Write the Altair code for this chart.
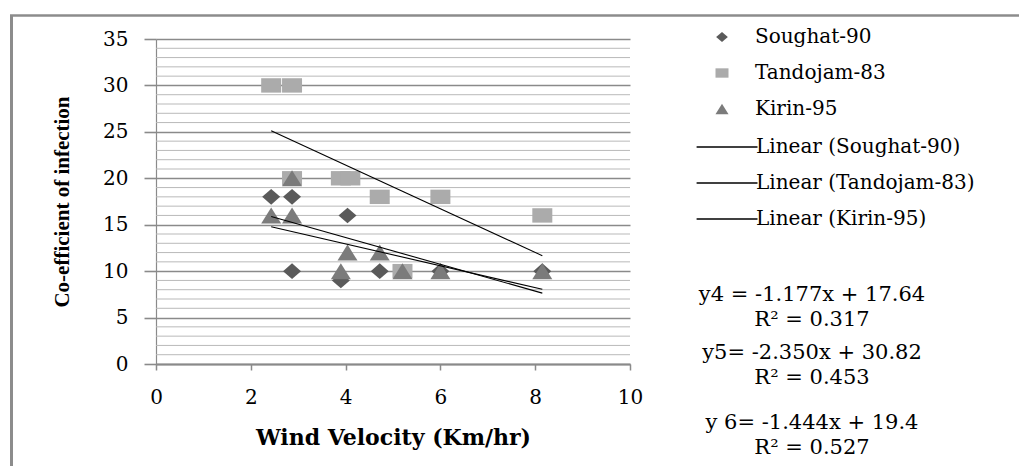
import altair as alt
import pandas as pd

# Varieties and their measured points (wind velocity, coefficient of infection)
SERIES = ["Soughat-90", "Tandojam-83", "Kirin-95"]

SOUGHAT_X = [2.43, 2.87, 2.87, 3.9, 4.04, 4.72, 6.0, 8.15]
SOUGHAT_Y = [18, 18, 10, 9, 16, 10, 10, 10]

TANDOJAM_X = [2.43, 2.87, 2.87, 3.9, 4.1, 4.72, 5.2, 6.0, 8.15]
TANDOJAM_Y = [30, 30, 20, 20, 20, 18, 10, 18, 16]

KIRIN_X = [2.43, 2.87, 2.87, 3.9, 4.04, 4.72, 5.2, 6.0, 8.15]
KIRIN_Y = [16, 16, 20, 10, 12, 12, 10, 10, 10]

# Linear trend coefficients as printed beside the chart
EQ_NAMES = ["y4 = ", "y5= ", "y 6= "]
SLOPES = [-1.177, -2.350, -1.444]
INTERCEPTS = [17.64, 30.82, 19.4]
R_SQUARED = [0.317, 0.453, 0.527]

X_TICKS = [0, 2, 4, 6, 8, 10]
Y_TICKS = [0, 5, 10, 15, 20, 25, 30, 35]
MINOR_Y = [v for v in range(1, 35) if v % 5]

FILLS = ["#5a5a5a", "#ababab", "#7b7b7b"]
SHAPES = [
    "M0,-0.78L0.9,0L0,0.78L-0.9,0Z",   # diamond
    "M-1,-0.72H1V0.72H-1Z",           # square
    "M0,-0.8L1,0.8L-1,0.8Z",          # triangle
]
# legend swatch for trend lines: a long stroke running up to the label
TREND_SWATCH = "M-7.6,0H1.77"

xs_all = [SOUGHAT_X, TANDOJAM_X, KIRIN_X]
ys_all = [SOUGHAT_Y, TANDOJAM_Y, KIRIN_Y]

points = pd.concat(
    [pd.DataFrame({"x": xs, "y": ys, "series": name})
     for name, xs, ys in zip(SERIES, xs_all, ys_all)],
    ignore_index=True,
)

TREND_NAMES = [f"Linear ({s})" for s in SERIES]
trend_rows = []
for tname, xs, a, b in zip(TREND_NAMES, xs_all, SLOPES, INTERCEPTS):
    for xv in (min(xs), max(xs)):
        trend_rows.append({"x": xv, "y": a * xv + b, "trend": tname})
trend = pd.DataFrame(trend_rows)

minor = pd.DataFrame({"y": MINOR_Y})
one = pd.DataFrame({"k": [0]})

W, H = 474, 325
SERIF = "DejaVu Serif"
GRID = "#8a8a8a"

x_scale = alt.Scale(domain=[0, 10], nice=False, zero=False)
y_scale = alt.Scale(domain=[0, 35], nice=False)

x_axis = alt.Axis(
    values=X_TICKS, grid=False, domainColor=GRID, domainWidth=2,
    tickColor=GRID, tickSize=6, tickWidth=1.5,
    labelFont=SERIF, labelFontSize=20, labelColor="black", labelPadding=17,
    labelFlush=False, labelOverlap=False,
    title="Wind Velocity (Km/hr)", titleFont=SERIF, titleFontSize=22,
    titleFontWeight="bold", titleColor="black",
    titleX=W / 2, titleY=73, titleAlign="center", titleBaseline="middle",
)
y_axis = alt.Axis(
    values=Y_TICKS, grid=True, gridColor=GRID, gridWidth=1.6,
    domainColor=GRID, domainWidth=1.2,
    tickColor=GRID, tickSize=12, tickWidth=1.6,
    labelFont=SERIF, labelFontSize=20, labelColor="black", labelPadding=16,
    labelOverlap=False,
    title="Co-efficient of infection", titleFont="Liberation Serif",
    titleFontSize=21, titleFontWeight="bold", titleColor="black",
    titleX=-94, titleY=H / 2, titleAngle=270, titleAlign="center",
    titleBaseline="middle",
)

X = alt.X("x:Q", scale=x_scale, axis=x_axis)
Y = alt.Y("y:Q", scale=y_scale, axis=y_axis)

minor_grid = alt.Chart(minor).mark_rule(color="#b9b9b9", strokeWidth=1).encode(y=Y)

legend_pts = alt.Legend(
    title=None, orient="none", legendX=556, legendY=-12,
    symbolSize=169, symbolStrokeWidth=0, symbolOpacity=1,
    labelFont=SERIF, labelFontSize=20, labelColor="black", labelLimit=400,
    labelOffset=23, rowPadding=16, padding=0,
)
pts = alt.Chart(points).mark_point(
    filled=True, opacity=1, size=400, strokeWidth=0
).encode(
    x=X, y=Y,
    color=alt.Color("series:N", scale=alt.Scale(domain=SERIES, range=FILLS),
                    legend=legend_pts),
    shape=alt.Shape("series:N", scale=alt.Scale(domain=SERIES, range=SHAPES),
                    legend=legend_pts),
    order=alt.Order("idx:Q"),
).transform_window(idx="row_number()")

legend_lines = alt.Legend(
    title=None, orient="none", legendX=580, legendY=98,
    symbolType=TREND_SWATCH, symbolSize=169, symbolStrokeWidth=1.3,
    symbolStrokeColor="black",
    labelFont=SERIF, labelFontSize=20, labelColor="black", labelLimit=400,
    labelOffset=0, rowPadding=16, padding=0,
)
lines = alt.Chart(trend).mark_line(strokeWidth=1.1).encode(
    x=X, y=Y,
    stroke=alt.Stroke("trend:N",
                      scale=alt.Scale(domain=TREND_NAMES, range=["black"] * 3),
                      legend=legend_lines),
)

# Outer frame
frame_left = alt.Chart(one).mark_rule(color="#8c8c8c", strokeWidth=3).encode(
    x=alt.value(-144.5), y=alt.value(-24), y2=alt.value(H + 110)
)
frame_top = alt.Chart(one).mark_rule(color="#8c8c8c", strokeWidth=2.5).encode(
    x=alt.value(-146), x2=alt.value(W + 400), y=alt.value(-23.5)
)

# Regression equations (y gives the first line of each block)
eq_layers = []
eq_tops = [256, 314, 384]
for name, a, b, r2, cy in zip(EQ_NAMES, SLOPES, INTERCEPTS, R_SQUARED, eq_tops):
    lines_txt = [f"{name}{a:.3f}x + {b:g}", f"R\u00b2 = {r2:.3f}"]
    eq_layers.append(
        alt.Chart(one).mark_text(
            font=SERIF, fontSize=21, align="center", baseline="middle",
            lineHeight=25, color="black",
        ).encode(x=alt.value(656), y=alt.value(cy), text=alt.value(lines_txt))
    )

chart = alt.layer(
    minor_grid, pts, lines, frame_left, frame_top, *eq_layers
).resolve_scale(
    color="independent", shape="independent", stroke="independent"
).properties(
    width=W, height=H,
    autosize=alt.AutoSizeParams(type="none"),
    padding={"left": 156, "top": 39, "right": 1019 - 156 - W, "bottom": 466 - 39 - H},
).configure_view(stroke=None)

chart.save("out.html", embed_options={"renderer": "svg", "actions": False})
